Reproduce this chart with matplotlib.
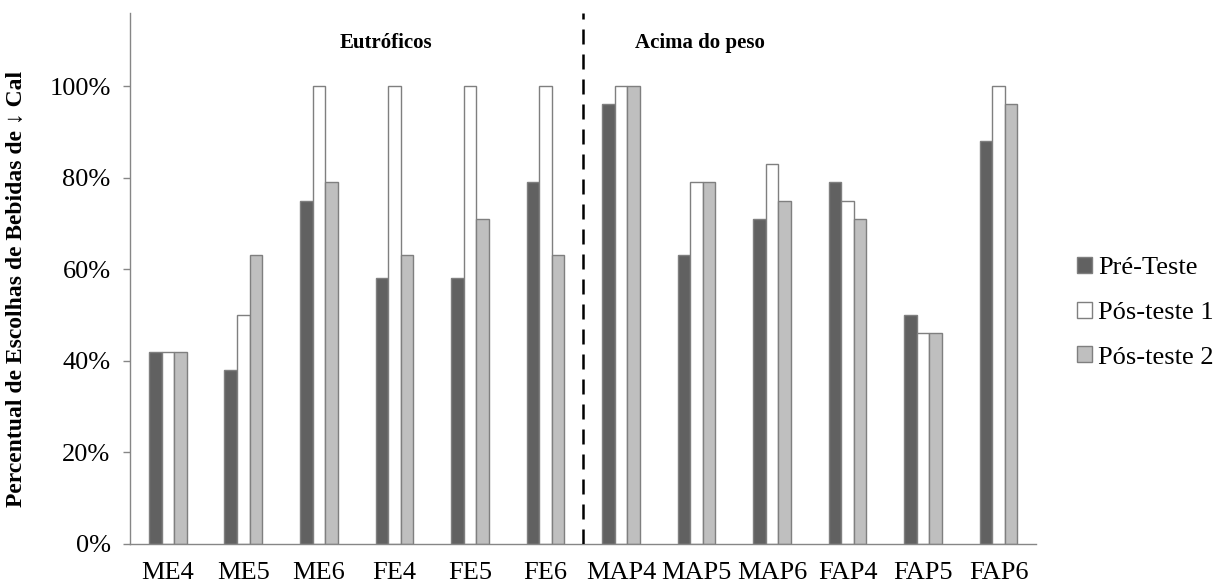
import matplotlib
matplotlib.use('Agg')
import matplotlib.pyplot as plt
import numpy as np
from matplotlib.ticker import PercentFormatter

categories = ['ME4', 'ME5', 'ME6', 'FE4', 'FE5', 'FE6',
              'MAP4', 'MAP5', 'MAP6', 'FAP4', 'FAP5', 'FAP6']
pre_teste = [42, 38, 75, 58, 58, 79, 96, 63, 71, 79, 50, 88]
pos_teste1 = [42, 50, 100, 100, 100, 100, 100, 79, 83, 75, 46, 100]
pos_teste2 = [42, 63, 79, 63, 71, 63, 100, 79, 75, 71, 46, 96]
series_names = ['Pré-Teste', 'Pós-teste 1', 'Pós-teste 2']
group_labels = ['Eutróficos', 'Acima do peso']

plt.rcParams['font.family'] = ['Liberation Serif', 'DejaVu Serif']

fig = plt.figure(figsize=(12.15, 5.86), dpi=100)
ax = fig.add_axes([0.107, 0.072, 0.746, 0.906])

x = np.arange(len(categories))
w = 0.166
colors = ['#616161', '#ffffff', '#bfbfbf']
for i, (vals, c, name) in enumerate(zip([pre_teste, pos_teste1, pos_teste2], colors, series_names)):
    ax.bar(x + (i - 1) * w, vals, w, color=c, edgecolor='#7f7f7f', linewidth=1, label=name, zorder=2)

ax.set_xlim(-0.5, len(categories) - 0.5)
ax.set_ylim(0, 116)
ax.set_yticks([0, 20, 40, 60, 80, 100])
ax.yaxis.set_major_formatter(PercentFormatter(decimals=0))
ax.set_xticks(x)
ax.set_xticklabels(categories)
ax.tick_params(axis='x', length=0, labelsize=19, pad=13)
ax.tick_params(axis='y', length=5, width=1, color='#868686', direction='out', labelsize=19, pad=9)

for s in ['top', 'right']:
    ax.spines[s].set_visible(False)
for s in ['left', 'bottom']:
    ax.spines[s].set_color('#868686')
    ax.spines[s].set_linewidth(1)

ax.axvline(5.5, color='black', linestyle=(0, (6, 4)), linewidth=1.8, zorder=3)

ax.text(2.28, 109.4, group_labels[0], ha='left', va='center', fontsize=15, fontweight='bold')
ax.text(6.19, 109.4, group_labels[1], ha='left', va='center', fontsize=15, fontweight='bold')

ax.set_ylabel('Percentual de Escolhas de Bebidas de \u2193 Cal', fontsize=17, fontweight='bold')
ax.yaxis.set_label_coords(-0.114, 0.48)

leg = ax.legend(loc='center left', bbox_to_anchor=(1.045, 0.435), frameon=False, fontsize=19,
                handlelength=0.55, handleheight=0.55, handletextpad=0.25, labelspacing=0.85,
                borderaxespad=0, borderpad=0)

fig.savefig('out.png', dpi=100)
